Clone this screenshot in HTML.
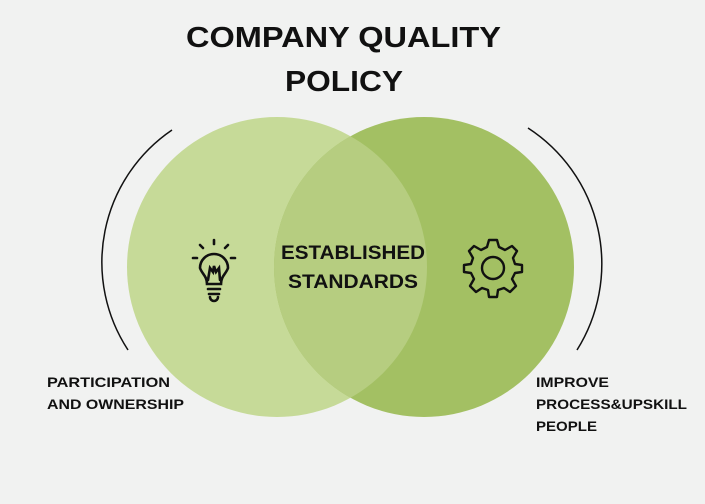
<!DOCTYPE html>
<html><head><style>
body{margin:0;background:#f1f2f1;}
svg{display:block}
text{font-family:"Liberation Sans",Arial,sans-serif;font-weight:bold;fill:#111}
</style></head><body>
<svg width="705" height="504" viewBox="0 0 705 504">
<rect width="705" height="504" fill="#f1f2f1"/>
<text x="186" y="47" font-size="29" textLength="315" lengthAdjust="spacingAndGlyphs">COMPANY QUALITY</text>
<text x="285" y="91" font-size="29" textLength="118" lengthAdjust="spacingAndGlyphs">POLICY</text>
<circle cx="277" cy="267" r="150" fill="#c6da98"/>
<circle cx="424" cy="267" r="150" fill="#a3c063"/>
<clipPath id="c"><circle cx="277" cy="267" r="150"/></clipPath>
<circle cx="424" cy="267" r="150" fill="#b6cd80" clip-path="url(#c)"/>
<path d="M172,130 A160,160 0 0 0 128,350" fill="none" stroke="#111" stroke-width="1.5"/>
<path d="M528,128 A162,162 0 0 1 577,350" fill="none" stroke="#111" stroke-width="1.5"/>
<text x="281" y="259" font-size="19" textLength="144" lengthAdjust="spacingAndGlyphs">ESTABLISHED</text>
<text x="288" y="288" font-size="19" textLength="130" lengthAdjust="spacingAndGlyphs">STANDARDS</text>
<!-- bulb -->
<g fill="none" stroke="#111" stroke-width="2.6" stroke-linecap="round">
<path d="M207,284 C207,276 202,274 200,268 A14,14 0 1 1 228,268 C226,274 221,276 221,284 Z"/>
<path d="M208,289 H220 M209,294 H219 M210,297 A4,4 0 0 0 218,297"/>
<path d="M208,280 L210,268 L213,272 L214,266 L216,272 L219,268 L220,280"/>
<line x1="214" y1="240" x2="214" y2="244"/><line x1="200" y1="245" x2="203" y2="248"/><line x1="228" y1="245" x2="225" y2="248"/>
<line x1="193" y1="258" x2="197" y2="258"/><line x1="235" y1="258" x2="231" y2="258"/>
</g>
<!-- gear -->
<g fill="none" stroke="#111" stroke-width="2.4" transform="translate(493,268)">
<circle r="11"/>
<path d="M-4,-28 H4 L6,-21 L12,-18 L19,-22 L24,-17 L20,-10 L22,-4 L29,-3 V4 L22,5 L19,11 L23,18 L17,24 L11,20 L5,22 L4,29 H-4 L-5,22 L-11,20 L-17,24 L-23,18 L-19,11 L-22,5 L-29,4 V-3 L-22,-4 L-20,-10 L-24,-17 L-19,-22 L-12,-18 L-6,-21 Z" stroke-linejoin="round"/>
</g>
<text x="47" y="387" font-size="14" textLength="123" lengthAdjust="spacingAndGlyphs">PARTICIPATION</text>
<text x="47" y="409" font-size="14" textLength="137" lengthAdjust="spacingAndGlyphs">AND OWNERSHIP</text>
<text x="536" y="387" font-size="14" textLength="73" lengthAdjust="spacingAndGlyphs">IMPROVE</text>
<text x="536" y="409" font-size="14" textLength="151" lengthAdjust="spacingAndGlyphs">PROCESS&amp;UPSKILL</text>
<text x="536" y="431" font-size="14" textLength="61" lengthAdjust="spacingAndGlyphs">PEOPLE</text>
</svg>
</body></html>
